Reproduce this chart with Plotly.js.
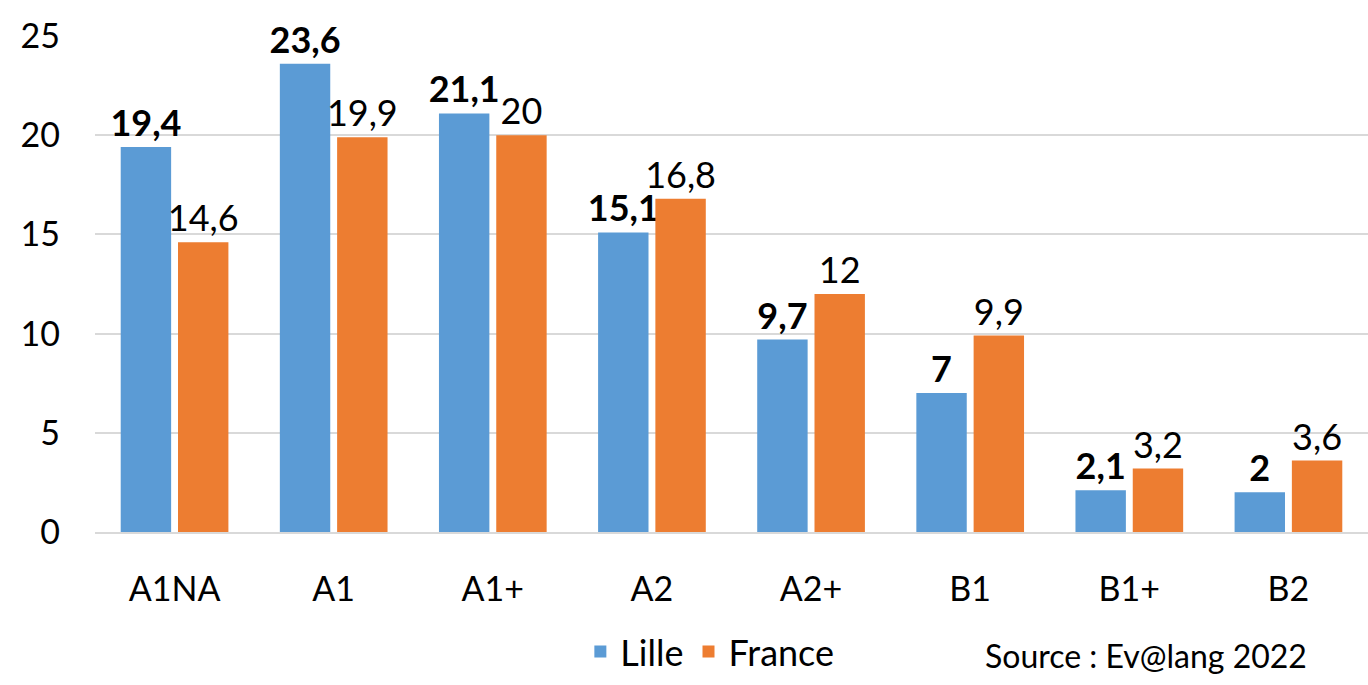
<!DOCTYPE html>
<html>
<head>
<meta charset="utf-8">
<script src="https://cdn.plot.ly/plotly-3.0.1.min.js"></script>
<style>
  html, body { margin: 0; padding: 0; background: #fff; }
  #chart { width: 1368px; height: 685px; }
</style>
</head>
<body>
<div id="chart"></div>
<script>
// Niveaux CECRL, Lille vs France (%)
const levels = ['A1NA', 'A1', 'A1+', 'A2', 'A2+', 'B1', 'B1+', 'B2'];
const lilleValues = [19.4, 23.6, 21.1, 15.1, 9.7, 7, 2.1, 2];
const franceValues = [14.6, 19.9, 20, 16.8, 12, 9.9, 3.2, 3.6];
const yTicks = [0, 5, 10, 15, 20, 25];

const FONT = 'Lato, "Open Sans", sans-serif';
const BLUE = '#5B9BD5';
const ORANGE = '#ED7D31';

// french decimal comma
const frLabel = v => String(v).replace('.', ',');

const traces = [
    {
        name: 'Lille',
        type: 'bar',
        x: levels,
        y: lilleValues,
        marker: { color: BLUE },
        text: lilleValues.map(frLabel),
        textposition: 'outside',
        constraintext: 'none',
        textfont: { family: FONT, size: 36, color: '#000', weight: 'bold' },
        cliponaxis: false,
        hoverinfo: 'none'
    },
    {
        name: 'France',
        type: 'bar',
        x: levels,
        y: franceValues,
        marker: { color: ORANGE },
        text: franceValues.map(frLabel),
        textposition: 'outside',
        constraintext: 'none',
        textfont: { family: FONT, size: 36, color: '#000' },
        cliponaxis: false,
        hoverinfo: 'none'
    }
];

const layout = {
    width: 1368,
    height: 685,
    margin: { t: 36, r: 0, b: 153, l: 95, autoexpand: false },
    paper_bgcolor: '#fff',
    plot_bgcolor: '#fff',
    font: { family: FONT, size: 34, color: '#000' },
    bargap: 0.28,
    bargroupgap: 0.12,
    showlegend: true,
    legend: {
        orientation: 'h',
        x: 0.483,
        xanchor: 'center',
        yref: 'container',
        y: 0.005,
        yanchor: 'bottom',
        font: { family: FONT, size: 36, color: '#000' },
        itemwidth: 30,
        tracegroupgap: 0
    },
    xaxis: {
        type: 'category',
        tickfont: { family: FONT, size: 34, color: '#000' },
        showline: true,
        linecolor: '#d9d9d9',
        linewidth: 2,
        ticks: '',
        ticklabelstandoff: 26,
        fixedrange: true
    },
    yaxis: {
        range: [0, 25],
        tickvals: yTicks,
        ticktext: yTicks.map(String),
        tickfont: { family: FONT, size: 34, color: '#000' },
        showgrid: true,
        gridcolor: '#d9d9d9',
        gridwidth: 2,
        zeroline: false,
        showline: false,
        ticks: '',
        ticklabelstandoff: 34,
        fixedrange: true
    },
    annotations: [
        {
            text: 'Source : Ev@lang 2022',
            xref: 'paper',
            yref: 'paper',
            x: 0.826,
            y: -0.248,
            xanchor: 'center',
            yanchor: 'middle',
            showarrow: false,
            font: { family: FONT, size: 32, color: '#000' }
        }
    ]
};

Plotly.newPlot('chart', traces, layout, { displayModeBar: false, staticPlot: true });
</script>
</body>
</html>
